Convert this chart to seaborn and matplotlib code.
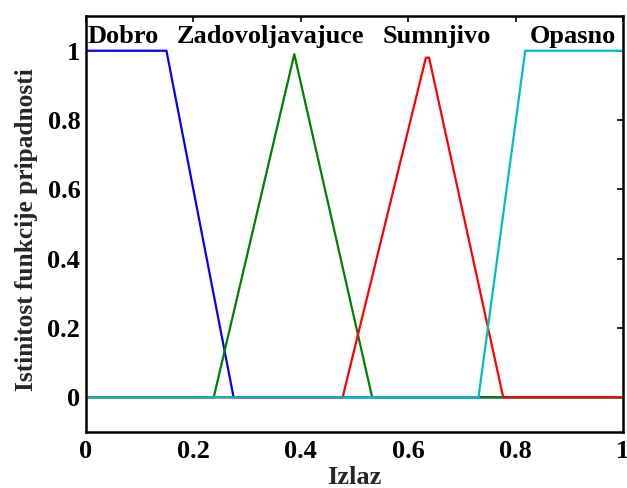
import matplotlib
matplotlib.use("Agg")
import matplotlib.pyplot as plt
import seaborn as sns
import pandas as pd

# Membership function breakpoints
dobro_x = [0.0, 0.150, 0.275, 1.0]
dobro_y = [1.0, 1.0, 0.0, 0.0]
zad_x = [0.0, 0.238, 0.388, 0.533, 1.0]
zad_y = [0.0, 0.0, 0.99, 0.0, 0.0]
sum_x = [0.0, 0.478, 0.633, 0.639, 0.777, 1.0]
sum_y = [0.0, 0.0, 0.98, 0.98, 0.0, 0.0]
opa_x = [0.0, 0.731, 0.818, 1.0]
opa_y = [0.0, 0.0, 1.0, 1.0]

names = ["Dobro", "Zadovoljavajuce", "Sumnjivo", "Opasno"]
label_x = [0.07, 0.343, 0.654, 0.907]
label_y = 1.023
colors = ["#0000FF", "#008000", "#FF0000", "#00BFBF"]

xticks = [0, 0.2, 0.4, 0.6, 0.8, 1]
yticks = [0, 0.2, 0.4, 0.6, 0.8, 1]
xtick_labels = ["0", "0.2", "0.4", "0.6", "0.8", "1"]
ytick_labels = ["0", "0.2", "0.4", "0.6", "0.8", "1"]

sns.set_style("white")
plt.rcParams["font.family"] = ["Liberation Serif", "DejaVu Serif"]
plt.rcParams["font.weight"] = "bold"

FS = 19

frames = []
for nm, xs, ys in zip(names, [dobro_x, zad_x, sum_x, opa_x], [dobro_y, zad_y, sum_y, opa_y]):
    frames.append(pd.DataFrame({"x": xs, "y": ys, "mf": nm}))
df = pd.concat(frames, ignore_index=True)

fig = plt.figure(figsize=(6.27, 4.88), dpi=100)
ax = fig.add_axes([0.137, 0.1148, 0.8566, 0.8522])

sns.lineplot(data=df, x="x", y="y", hue="mf", palette=dict(zip(names, colors)),
             hue_order=names, sort=False, estimator=None, linewidth=1.6,
             legend=False, ax=ax)

for nm, lx in zip(names, label_x):
    ax.text(lx, label_y, nm, ha="center", va="baseline", fontsize=FS,
            fontweight="bold", color="black")

ax.set_xlim(0, 1)
ax.set_ylim(-0.1, 1.1)
ax.set_xticks(xticks)
ax.set_xticklabels(xtick_labels)
ax.set_yticks(yticks)
ax.set_yticklabels(ytick_labels)
ax.tick_params(direction="in", length=4, width=1.2, top=True, right=True,
               labelsize=FS, colors="black")
ax.tick_params(axis="y", pad=4)
ax.tick_params(axis="x", pad=6)
for t in ax.get_xticklabels() + ax.get_yticklabels():
    t.set_fontweight("bold")
for s in ax.spines.values():
    s.set_visible(True)
    s.set_linewidth(1.8)
    s.set_color("black")

ax.set_xlabel("Izlaz", fontsize=FS, fontweight="bold")
ax.xaxis.set_label_coords(0.5, -0.083)
ax.set_ylabel("Istinitost funkcije pripadnosti", fontsize=18.3, fontweight="bold")
ax.yaxis.set_label_coords(-0.09, 0.486)

fig.savefig("out.png", dpi=100)
